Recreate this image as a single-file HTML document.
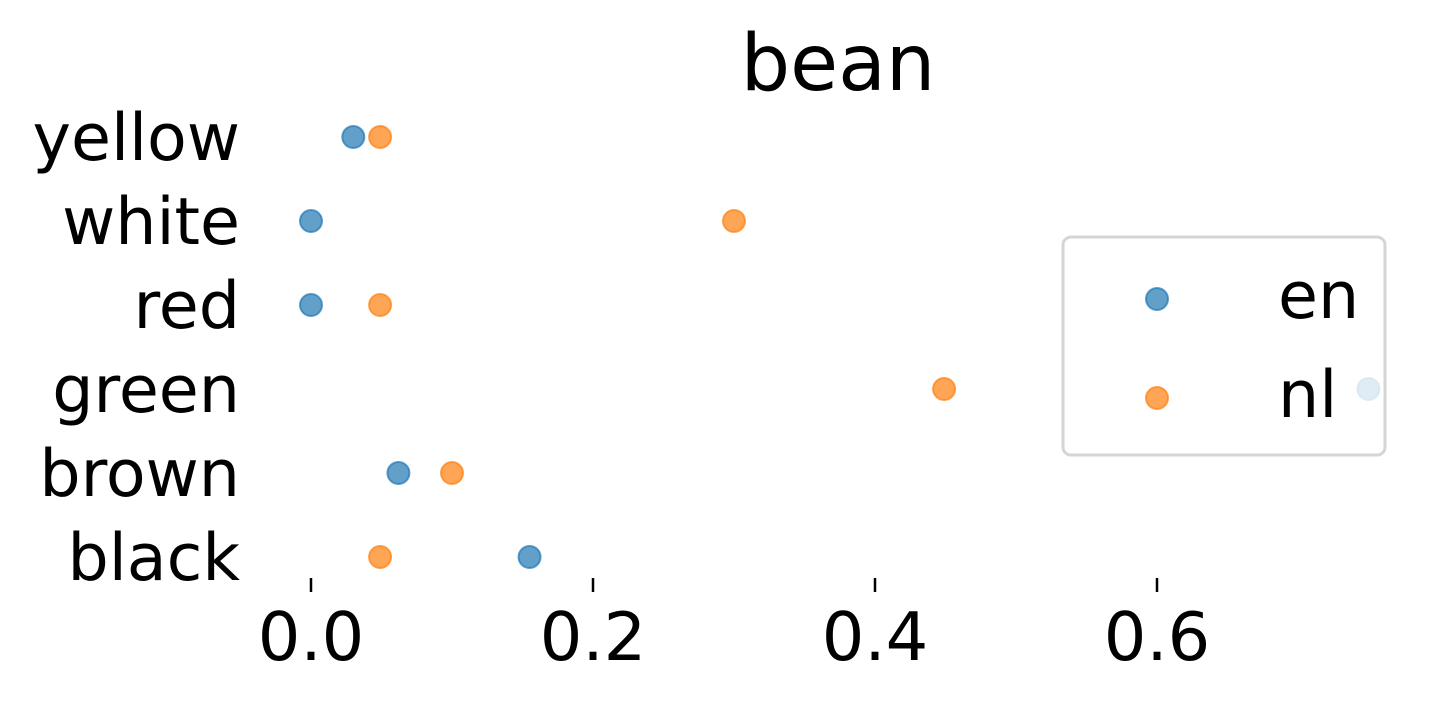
<!DOCTYPE html>
<html><head><meta charset="utf-8"><style>
body{margin:0;background:#fff}
svg{display:block;font-family:"DejaVu Sans","Liberation Sans",sans-serif}
</style></head><body>
<svg id="chart" width="1449" height="703" viewBox="0 0 1449 703">
<text x="838" y="90" font-size="78" text-anchor="middle">bean</text>
<g id="yaxis"></g>
<g id="xaxis"></g>
<g id="points"></g>
<g>
<rect x="1063" y="237" width="322" height="218" rx="8" fill="#fff" fill-opacity="0.8" stroke="#d5d5d5" stroke-width="3"/>
<circle cx="1157" cy="299" r="11" fill="#1f77b4" fill-opacity="0.7" stroke="#1f77b4" stroke-opacity="0.7" stroke-width="2"/>
<text x="1278" y="318" font-size="65">en</text>
<circle cx="1157" cy="398" r="11" fill="#ff7f0e" fill-opacity="0.7" stroke="#ff7f0e" stroke-opacity="0.7" stroke-width="2"/>
<text x="1278" y="417" font-size="65">nl</text>
</g>
</svg>
<script>
const categories = ["yellow","white","red","green","brown","black"];
const enValues = [0.03, 0.0, 0.0, 0.75, 0.062, 0.155];
const nlValues = [0.049, 0.3, 0.049, 0.449, 0.1, 0.049];
const xTicks = [0.0, 0.2, 0.4, 0.6];
const xTickLabels = ["0.0","0.2","0.4","0.6"];
const NS="http://www.w3.org/2000/svg";
function xs(v){return 311+v*1410;}
function ys(i){return 137+i*84;}
const ya=document.getElementById('yaxis'), xa=document.getElementById('xaxis'), pts=document.getElementById('points');
categories.forEach((c,i)=>{
  const t=document.createElementNS(NS,'text');
  
  
  t.setAttribute('x',240);t.setAttribute('y',ys(i)+23);
  t.setAttribute('font-size','65');t.setAttribute('text-anchor','end');
  t.textContent=c;ya.appendChild(t);
});
xTicks.forEach((v,i)=>{
  const l=document.createElementNS(NS,'line');
  
  
  l.setAttribute('x1',xs(v));l.setAttribute('x2',xs(v));l.setAttribute('y1',578);l.setAttribute('y2',592);
  l.setAttribute('stroke','#000');l.setAttribute('stroke-width','2.5');xa.appendChild(l);
  const t=document.createElementNS(NS,'text');
  
  
  t.setAttribute('x',xs(v));t.setAttribute('y',660);
  t.setAttribute('font-size','67');t.setAttribute('text-anchor','middle');
  t.textContent=xTickLabels[i];xa.appendChild(t);
});
function dot(v,i,col,name){
  const c=document.createElementNS(NS,'circle');
  
  
  c.setAttribute('cx',xs(v));c.setAttribute('cy',ys(i));c.setAttribute('r',11);
  c.setAttribute('fill',col);c.setAttribute('fill-opacity','0.7');
  c.setAttribute('stroke',col);c.setAttribute('stroke-opacity','0.7');c.setAttribute('stroke-width','2');
  pts.appendChild(c);
}
enValues.forEach((v,i)=>dot(v,i,'#1f77b4','en-point'));
nlValues.forEach((v,i)=>dot(v,i,'#ff7f0e','nl-point'));
</script>
</body></html>
